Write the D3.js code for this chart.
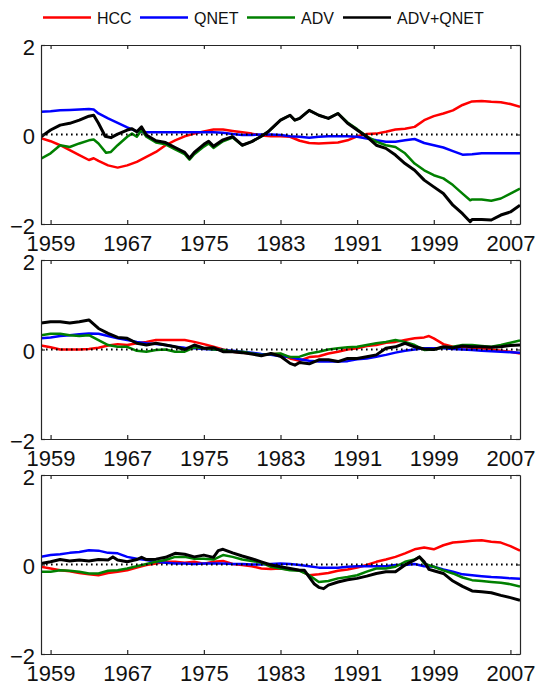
<!DOCTYPE html>
<html>
<head>
<meta charset="utf-8">
<script src="https://cdn.jsdelivr.net/npm/d3@7"></script>
<style>
  body { margin: 0; background: #fff; }
  svg { display: block; }
</style>
</head>
<body>
<div id="chart"></div>
<script>
// series names and colours (legend order)
const seriesNames = ["HCC", "QNET", "ADV", "ADV+QNET"];
const seriesColors = ["#ff0000", "#0000ff", "#008000", "#000000"];

const xTicks = [1959, 1967, 1975, 1983, 1991, 1999, 2007];
const yTicks = [-2, 0, 2];

// panel 1 — [year, value]
const p1HCC = [[1958,-0.08],[1959,-0.15],[1960,-0.24],[1961,-0.35],[1962,-0.46],[1963,-0.57],[1963.5,-0.53],[1964,-0.59],[1965,-0.69],[1966,-0.74],[1967,-0.69],[1968,-0.61],[1969,-0.5],[1970,-0.39],[1971,-0.24],[1972,-0.13],[1973,-0.04],[1974,0.02],[1975,0.07],[1976,0.11],[1977,0.11],[1978,0.08],[1979,0.05],[1980,0.02],[1981,-0.02],[1982,-0.04],[1983,-0.04],[1984,-0.05],[1985,-0.14],[1986,-0.19],[1987,-0.2],[1988,-0.19],[1989,-0.18],[1990,-0.13],[1991,-0.04],[1992,0.01],[1993,0.02],[1994,0.06],[1995,0.11],[1996,0.13],[1997,0.17],[1998,0.32],[1999,0.41],[2000,0.47],[2001,0.54],[2002,0.66],[2003,0.74],[2004,0.75],[2005,0.73],[2006,0.72],[2007,0.68],[2008,0.62]];
const p1QNET = [[1958,0.51],[1959,0.52],[1960,0.54],[1961,0.55],[1962,0.56],[1963,0.57],[1963.5,0.56],[1964,0.47],[1965,0.36],[1966,0.26],[1967,0.16],[1968,0.07],[1969,0.05],[1970,0.05],[1971,0.05],[1972,0.05],[1973,0.05],[1974,0.05],[1975,0.05],[1976,0.05],[1977,0.04],[1978,0.01],[1979,-0.01],[1980,-0.01],[1981,0],[1982,0],[1983,-0.01],[1984,-0.04],[1985,-0.05],[1986,-0.07],[1987,-0.05],[1988,-0.04],[1989,-0.04],[1990,-0.04],[1991,-0.05],[1992,-0.09],[1993,-0.13],[1994,-0.16],[1995,-0.16],[1996,-0.13],[1997,-0.1],[1998,-0.19],[1999,-0.24],[2000,-0.29],[2001,-0.37],[2002,-0.45],[2003,-0.44],[2004,-0.42],[2005,-0.42],[2006,-0.42],[2007,-0.42],[2008,-0.42]];
const p1ADV = [[1958,-0.54],[1959,-0.42],[1960,-0.24],[1961,-0.28],[1962,-0.2],[1963,-0.13],[1963.5,-0.11],[1964,-0.2],[1964.8,-0.41],[1965.3,-0.39],[1966,-0.24],[1967,-0.05],[1967.5,0.02],[1968,-0.05],[1968.5,0.1],[1969,-0.05],[1970,-0.18],[1971,-0.22],[1972,-0.33],[1973,-0.44],[1973.5,-0.56],[1974,-0.44],[1975,-0.27],[1975.5,-0.2],[1976,-0.3],[1977,-0.15],[1978,-0.07],[1979,-0.24],[1980,-0.16],[1981,-0.04],[1981.7,0.06],[1983,0.32],[1984,0.43],[1984.5,0.32],[1985,0.36],[1986,0.54],[1987,0.43],[1988,0.36],[1989,0.47],[1990,0.27],[1991,0.12],[1992,-0.04],[1993,-0.16],[1994,-0.24],[1995,-0.28],[1996,-0.42],[1997,-0.65],[1998,-0.8],[1999,-0.91],[2000,-0.98],[2001,-1.13],[2002,-1.32],[2002.8,-1.47],[2003,-1.45],[2004,-1.45],[2005,-1.48],[2006,-1.43],[2007,-1.32],[2008,-1.21]];
const p1SUM = [[1958,-0.05],[1959,0.1],[1960,0.21],[1961,0.25],[1962,0.32],[1963,0.41],[1963.5,0.43],[1964,0.25],[1964.7,-0.04],[1965.3,-0.07],[1966,0.01],[1967,0.1],[1967.5,0.13],[1968,0.06],[1968.5,0.17],[1969,-0.01],[1970,-0.14],[1971,-0.18],[1972,-0.29],[1973,-0.4],[1973.5,-0.53],[1974,-0.4],[1975,-0.22],[1975.5,-0.15],[1976,-0.26],[1977,-0.12],[1978,-0.05],[1979,-0.24],[1980,-0.16],[1981,-0.04],[1981.7,0.06],[1983,0.32],[1984,0.43],[1984.5,0.32],[1985,0.36],[1986,0.54],[1987,0.43],[1988,0.36],[1989,0.47],[1990,0.25],[1991,0.1],[1992,-0.05],[1993,-0.24],[1994,-0.31],[1995,-0.46],[1996,-0.65],[1997,-0.8],[1998,-1.02],[1999,-1.17],[2000,-1.32],[2001,-1.58],[2002,-1.77],[2002.8,-1.95],[2003,-1.9],[2004,-1.9],[2005,-1.91],[2006,-1.8],[2007,-1.73],[2008,-1.58]];

// panel 2
const p2HCC = [[1958,0.09],[1959,0.05],[1960,0],[1961,0],[1962,0],[1963,0.01],[1964,0.04],[1965,0.09],[1966,0.12],[1967,0.1],[1968,0.14],[1969,0.17],[1970,0.21],[1971,0.21],[1972,0.21],[1973,0.21],[1974,0.17],[1975,0.12],[1976,0.06],[1977,0],[1978,-0.05],[1979,-0.07],[1980,-0.09],[1981,-0.12],[1982,-0.1],[1983,-0.1],[1984,-0.2],[1985,-0.25],[1986,-0.17],[1987,-0.15],[1988,-0.09],[1989,-0.05],[1990,0],[1991,0.03],[1992,0.08],[1993,0.1],[1994,0.15],[1995,0.17],[1996,0.21],[1997,0.25],[1998,0.27],[1998.5,0.3],[1999,0.25],[2000,0.12],[2001,0.06],[2002,0.05],[2003,0.04],[2004,0.03],[2005,0],[2006,-0.03],[2007,-0.05],[2008,-0.09]];
const p2QNET = [[1958,0.25],[1959,0.27],[1960,0.3],[1961,0.32],[1962,0.34],[1963,0.36],[1964,0.35],[1965,0.3],[1966,0.25],[1967,0.21],[1968,0.17],[1969,0.14],[1970,0.12],[1971,0.1],[1972,0.06],[1973,0.04],[1974,0.03],[1975,0.01],[1976,0],[1977,-0.01],[1978,-0.03],[1979,-0.05],[1980,-0.07],[1981,-0.1],[1982,-0.12],[1983,-0.15],[1984,-0.17],[1985,-0.22],[1986,-0.25],[1987,-0.27],[1988,-0.27],[1989,-0.27],[1990,-0.26],[1991,-0.22],[1992,-0.2],[1993,-0.16],[1994,-0.12],[1995,-0.07],[1996,-0.03],[1997,0],[1998,0.03],[1999,0.03],[2000,0.03],[2001,0.01],[2002,0],[2003,-0.01],[2004,-0.03],[2005,-0.04],[2006,-0.05],[2007,-0.06],[2008,-0.07]];
const p2ADV = [[1958,0.32],[1959,0.35],[1960,0.35],[1961,0.32],[1962,0.3],[1963,0.32],[1964,0.21],[1965,0.1],[1966,0.06],[1967,0.06],[1968,-0.03],[1969,-0.05],[1970,-0.01],[1971,0],[1972,-0.05],[1973,-0.05],[1974,0.05],[1975,0.03],[1976,0],[1977,-0.01],[1978,-0.05],[1979,-0.05],[1980,-0.09],[1981,-0.12],[1982,-0.1],[1983,-0.09],[1984,-0.17],[1985,-0.16],[1986,-0.09],[1987,-0.05],[1988,0],[1989,0.03],[1990,0.05],[1991,0.06],[1992,0.1],[1993,0.14],[1994,0.17],[1995,0.21],[1996,0.17],[1997,0.1],[1998,-0.01],[1999,0],[2000,0.05],[2001,0.06],[2002,0.1],[2003,0.1],[2004,0.08],[2005,0.06],[2006,0.1],[2007,0.15],[2008,0.2]];
const p2SUM = [[1958,0.59],[1959,0.62],[1960,0.62],[1961,0.59],[1962,0.62],[1963,0.66],[1964,0.47],[1965,0.36],[1966,0.27],[1967,0.25],[1968,0.14],[1969,0.1],[1970,0.14],[1971,0.1],[1972,0.06],[1973,0],[1974,0.1],[1975,0.03],[1976,0.04],[1977,-0.05],[1978,-0.05],[1979,-0.07],[1980,-0.1],[1981,-0.14],[1982,-0.09],[1983,-0.15],[1984,-0.31],[1984.5,-0.35],[1985,-0.29],[1986,-0.32],[1987,-0.23],[1988,-0.23],[1989,-0.27],[1990,-0.2],[1991,-0.2],[1992,-0.16],[1993,-0.12],[1994,0.03],[1995,0.06],[1996,0.14],[1997,0.06],[1998,0.01],[1999,0],[2000,0.06],[2001,0.04],[2002,0.08],[2003,0.06],[2004,0.06],[2005,0.05],[2006,0.06],[2007,0.09],[2008,0.1]];

// panel 3
const p3HCC = [[1958,-0.05],[1959,-0.09],[1960,-0.13],[1961,-0.15],[1962,-0.19],[1963,-0.22],[1964,-0.24],[1965,-0.19],[1966,-0.16],[1967,-0.13],[1968,-0.07],[1969,-0.01],[1970,0.02],[1971,0.06],[1972,0.06],[1973,0.04],[1974,0.06],[1975,0.02],[1976,0.06],[1977,0.08],[1978,0.01],[1979,-0.01],[1980,-0.04],[1981,-0.09],[1982,-0.1],[1983,-0.09],[1984,-0.11],[1985,-0.13],[1986,-0.24],[1987,-0.22],[1988,-0.19],[1989,-0.14],[1990,-0.11],[1991,-0.07],[1992,-0.01],[1993,0.06],[1994,0.11],[1995,0.17],[1996,0.25],[1997,0.34],[1998,0.38],[1999,0.34],[2000,0.43],[2001,0.49],[2002,0.51],[2003,0.53],[2004,0.54],[2005,0.51],[2006,0.49],[2007,0.41],[2008,0.31]];
const p3QNET = [[1958,0.17],[1959,0.21],[1960,0.23],[1961,0.26],[1962,0.28],[1963,0.32],[1964,0.31],[1965,0.26],[1966,0.25],[1967,0.17],[1968,0.13],[1969,0.1],[1970,0.06],[1971,0.04],[1972,0.02],[1973,0.02],[1974,0.01],[1975,0.02],[1976,0.02],[1977,0.02],[1978,0.01],[1979,0.01],[1980,0],[1981,0],[1982,0.01],[1983,0.02],[1984,0.01],[1985,-0.01],[1986,-0.04],[1987,-0.07],[1988,-0.07],[1989,-0.07],[1990,-0.05],[1991,-0.04],[1992,-0.04],[1993,-0.04],[1994,-0.04],[1995,-0.01],[1996,-0.01],[1997,0.01],[1998,-0.04],[1999,-0.05],[2000,-0.11],[2001,-0.16],[2002,-0.22],[2003,-0.24],[2004,-0.26],[2005,-0.28],[2006,-0.29],[2007,-0.31],[2008,-0.32]];
const p3ADV = [[1958,-0.16],[1959,-0.16],[1960,-0.13],[1961,-0.14],[1962,-0.16],[1963,-0.2],[1964,-0.2],[1965,-0.14],[1966,-0.13],[1967,-0.09],[1968,-0.04],[1969,0.01],[1970,0.06],[1971,0.1],[1972,0.17],[1973,0.17],[1974,0.13],[1975,0.13],[1976,0.11],[1977,0.21],[1978,0.17],[1979,0.11],[1980,0.08],[1981,0.04],[1982,-0.05],[1983,-0.09],[1984,-0.13],[1985,-0.14],[1986,-0.24],[1987,-0.39],[1988,-0.37],[1989,-0.31],[1990,-0.28],[1991,-0.24],[1992,-0.16],[1993,-0.09],[1994,-0.09],[1995,-0.05],[1996,0.06],[1997,0.11],[1997.5,0.17],[1998,0.02],[1999,-0.05],[2000,-0.13],[2001,-0.2],[2002,-0.29],[2003,-0.35],[2004,-0.37],[2005,-0.39],[2006,-0.41],[2007,-0.44],[2008,-0.49]];
const p3SUM = [[1958,0.02],[1959,0.06],[1960,0.11],[1961,0.08],[1962,0.1],[1963,0.08],[1964,0.11],[1965,0.1],[1965.5,0.17],[1966,0.1],[1967,0.06],[1968,0.11],[1968.5,0.16],[1969,0.11],[1970,0.12],[1971,0.16],[1972,0.25],[1973,0.23],[1974,0.17],[1975,0.21],[1976,0.16],[1976.5,0.31],[1977,0.34],[1978,0.26],[1979,0.19],[1980,0.13],[1981,0.06],[1982,-0.01],[1983,-0.05],[1984,-0.09],[1985,-0.13],[1985.5,-0.13],[1986,-0.28],[1986.5,-0.43],[1987,-0.51],[1987.5,-0.54],[1988,-0.46],[1989,-0.39],[1990,-0.34],[1991,-0.31],[1992,-0.26],[1993,-0.2],[1994,-0.16],[1995,-0.16],[1996,-0.01],[1997,0.1],[1997.5,0.17],[1998,0.06],[1998.5,-0.11],[1999,-0.14],[2000,-0.2],[2001,-0.37],[2002,-0.49],[2003,-0.59],[2004,-0.61],[2005,-0.63],[2006,-0.69],[2007,-0.74],[2008,-0.8]];

const panels = [
  [p1HCC, p1QNET, p1ADV, p1SUM],
  [p2HCC, p2QNET, p2ADV, p2SUM],
  [p3HCC, p3QNET, p3ADV, p3SUM]
];

const width = 538, height = 684;
const left = 41, right = 520;
const panelTops = [45, 260, 475];
const panelH = 179;
const font = "'Liberation Sans', Arial, Helvetica, sans-serif";

const svg = d3.select("#chart").append("svg")
  .attr("width", width)
  .attr("height", height);

const x = d3.scaleLinear().domain([1958, 2008]).range([left, right]);

panels.forEach((series, pi) => {
  const top = panelTops[pi];
  const y = d3.scaleLinear().domain([-2, 2]).range([top + panelH, top]);
  const g = svg.append("g");

  // clip so lines stay inside the box
  const clipId = "clip" + pi;
  svg.append("clipPath").attr("id", clipId)
    .append("rect")
    .attr("x", left).attr("y", top)
    .attr("width", right - left).attr("height", panelH);

  const line = d3.line()
    .x(d => x(d[0]))
    .y(d => y(d[1]));

  const lines = g.append("g").attr("clip-path", "url(#" + clipId + ")");
  series.forEach((s, i) => {
    lines.append("path")
      .datum(s)
      .attr("fill", "none")
      .attr("stroke", seriesColors[i])
      .attr("stroke-width", i == 3 ? 3 : 2.5)
      .attr("stroke-linejoin", "round")
      .attr("d", line);
  });

  // dotted zero line
  lines.append("line")
    .attr("x1", left).attr("x2", right)
    .attr("y1", y(0)).attr("y2", y(0))
    .attr("stroke", "#000")
    .attr("stroke-width", 2)
    .attr("stroke-dasharray", "1.6 3.4");

  // axes (ticks inward, box on)
  const axisStyle = a => {
    a.attr("font-family", font).attr("font-size", 22);
    a.selectAll("path, line").attr("stroke", "#262626").attr("stroke-width", 1.2);
    a.selectAll("text").attr("fill", "#111");
  };

  g.append("g")
    .attr("transform", "translate(0," + (top + panelH) + ")")
    .call(d3.axisBottom(x).tickValues(xTicks).tickFormat(d3.format("d"))
      .tickSizeInner(-4).tickSizeOuter(0).tickPadding(11))
    .call(axisStyle);

  g.append("g")
    .attr("transform", "translate(0," + top + ")")
    .call(d3.axisTop(x).tickValues(xTicks).tickFormat("")
      .tickSizeInner(-4).tickSizeOuter(0))
    .call(axisStyle);

  const yAxis = g.append("g")
    .attr("transform", "translate(" + left + ",0)")
    .call(d3.axisLeft(y).tickValues(yTicks).tickFormat(d3.format("d"))
      .tickSizeInner(-4).tickSizeOuter(0).tickPadding(6))
    .call(axisStyle);
  yAxis.selectAll("text").attr("dy", "0.42em");

  g.append("g")
    .attr("transform", "translate(" + right + ",0)")
    .call(d3.axisRight(y).tickValues(yTicks).tickFormat("")
      .tickSizeInner(-4).tickSizeOuter(0))
    .call(axisStyle);
});

// legend
const legendX = [43, 140, 247, 343];
const legend = svg.append("g").attr("font-family", font).attr("font-size", 16);
seriesNames.forEach((name, i) => {
  legend.append("line")
    .attr("x1", legendX[i]).attr("x2", legendX[i] + 48)
    .attr("y1", 17.5).attr("y2", 17.5)
    .attr("stroke", seriesColors[i])
    .attr("stroke-width", 2.5);
  legend.append("text")
    .attr("x", legendX[i] + 54)
    .attr("y", 23.5)
    .attr("fill", "#111")
    .text(name);
});
</script>
</body>
</html>
